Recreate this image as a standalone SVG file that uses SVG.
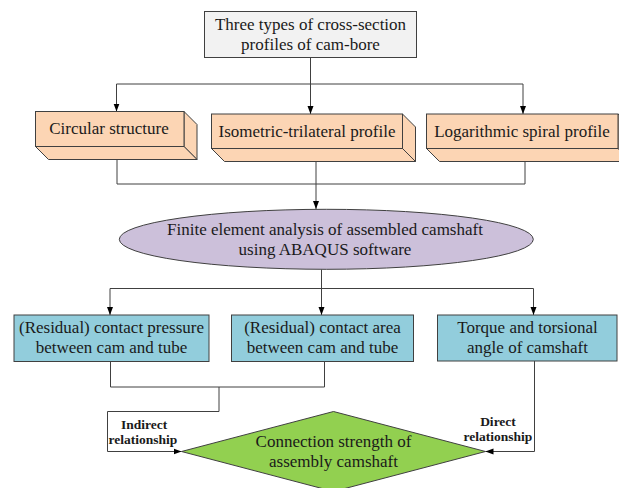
<svg xmlns="http://www.w3.org/2000/svg" width="619" height="488" viewBox="0 0 619 488">
<defs>
<style>
.t{font-family:"Liberation Serif","Times New Roman",serif;font-size:17px;fill:#1a1a1a;text-anchor:middle}
.b{font-family:"Liberation Serif","Times New Roman",serif;font-size:13.5px;font-weight:bold;fill:#1a1a1a;text-anchor:middle}
.sh{stroke:#404040;stroke-width:1}
.peach{fill:#fcd5b4}
.con{fill:none;stroke:#404040;stroke-width:1}
</style>
<marker id="ah" markerUnits="userSpaceOnUse" markerWidth="8" markerHeight="8" viewBox="0 0 8 8" refX="8" refY="4" orient="auto">
<path d="M0,1 L8,4 L0,7 Z" fill="#000"/>
</marker>
</defs>
<rect width="619" height="488" fill="#fff"/>

<g id="connectors">
<path class="con" d="M310.5,57.5 V84 M116.5,84 H523"/>
<path class="con" d="M116.5,84 V111.5" marker-end="url(#ah)"/>
<path class="con" d="M310.5,84 V114" marker-end="url(#ah)"/>
<path class="con" d="M523,84 V114" marker-end="url(#ah)"/>
<path class="con" d="M117,160 V184 H525 V161.5"/>
<path class="con" d="M316,161.5 V209" marker-end="url(#ah)"/>
<path class="con" d="M321.5,269.5 V288.5 M110,288.5 H533.5"/>
<path class="con" d="M110,288.5 V315" marker-end="url(#ah)"/>
<path class="con" d="M321.5,288.5 V315" marker-end="url(#ah)"/>
<path class="con" d="M533.5,288.5 V315" marker-end="url(#ah)"/>
<path class="con" d="M110.5,361.5 V387 H324.5 V361.5 M219,387 V411.5 H107.5 V451.5 H181.5" marker-end="url(#ah)"/>
<path class="con" d="M534.5,361 V451.5 H485.5" marker-end="url(#ah)"/>
</g>

<g id="n-top">
<rect x="204.5" y="11.5" width="212" height="46" fill="#f2f2f2" class="sh"/>
<text class="t" x="310.5" y="30">Three types of cross-section</text>
<text class="t" x="310.5" y="50">profiles of cam-bore</text>
</g>

<g id="n-circular">
<polygon class="peach sh" points="184,111.5 197,124.5 197,159.5 184,146.5"/>
<polygon class="peach sh" points="35.5,146.5 184,146.5 197,159.5 48.5,159.5"/>
<rect class="peach sh" x="35.5" y="111.5" width="148.5" height="35"/>
<text class="t" x="109" y="133.5">Circular structure</text>
</g>

<g id="n-isometric">
<polygon class="peach sh" points="402.5,114 415.5,127 415.5,161.5 402.5,148.5"/>
<polygon class="peach sh" points="211.5,148.5 402.5,148.5 415.5,161.5 224.5,161.5"/>
<rect class="peach sh" x="211.5" y="114" width="191" height="34.5"/>
<text class="t" x="307" y="136.5">Isometric-trilateral profile</text>
</g>

<g id="n-log">
<polygon class="peach sh" points="618,114 631,127 631,161.5 618,148.5"/>
<polygon class="peach sh" points="426.5,148.5 618,148.5 631,161.5 439.5,161.5"/>
<rect class="peach sh" x="426.5" y="114" width="191.5" height="34.5"/>
<text class="t" x="522" y="136.5">Logarithmic spiral profile</text>
</g>

<g id="n-fea">
<ellipse cx="326.3" cy="239.3" rx="207" ry="30" fill="#ccc0da" class="sh"/>
<text class="t" x="325" y="235">Finite element analysis of assembled camshaft</text>
<text class="t" x="325" y="255">using ABAQUS software</text>
</g>

<g id="n-pressure">
<rect x="14" y="315" width="195" height="46.5" fill="#92cddc" class="sh"/>
<text class="t" x="111.5" y="333">(Residual) contact pressure</text>
<text class="t" x="111.5" y="353">between cam and tube</text>
</g>

<g id="n-area">
<rect x="231.5" y="315" width="182" height="46.5" fill="#92cddc" class="sh"/>
<text class="t" x="322.5" y="333">(Residual) contact area</text>
<text class="t" x="322.5" y="353">between cam and tube</text>
</g>

<g id="n-torque">
<rect x="437.5" y="315" width="179.5" height="46" fill="#92cddc" class="sh"/>
<text class="t" x="527.5" y="333">Torque and torsional</text>
<text class="t" x="527.5" y="353">angle of camshaft</text>
</g>

<g id="n-strength">
<polygon points="333.5,411.5 485.5,451.5 333.5,491.5 181.5,451.5" fill="#92d050" class="sh"/>
<text class="t" x="333.5" y="447">Connection strength of</text>
<text class="t" x="333.5" y="467">assembly camshaft</text>
</g>

<g id="labels">
<text class="b" x="144" y="429">Indirect</text>
<text class="b" x="143" y="444">relationship</text>
<text class="b" x="498" y="426">Direct</text>
<text class="b" x="498" y="441">relationship</text>
</g>
</svg>
